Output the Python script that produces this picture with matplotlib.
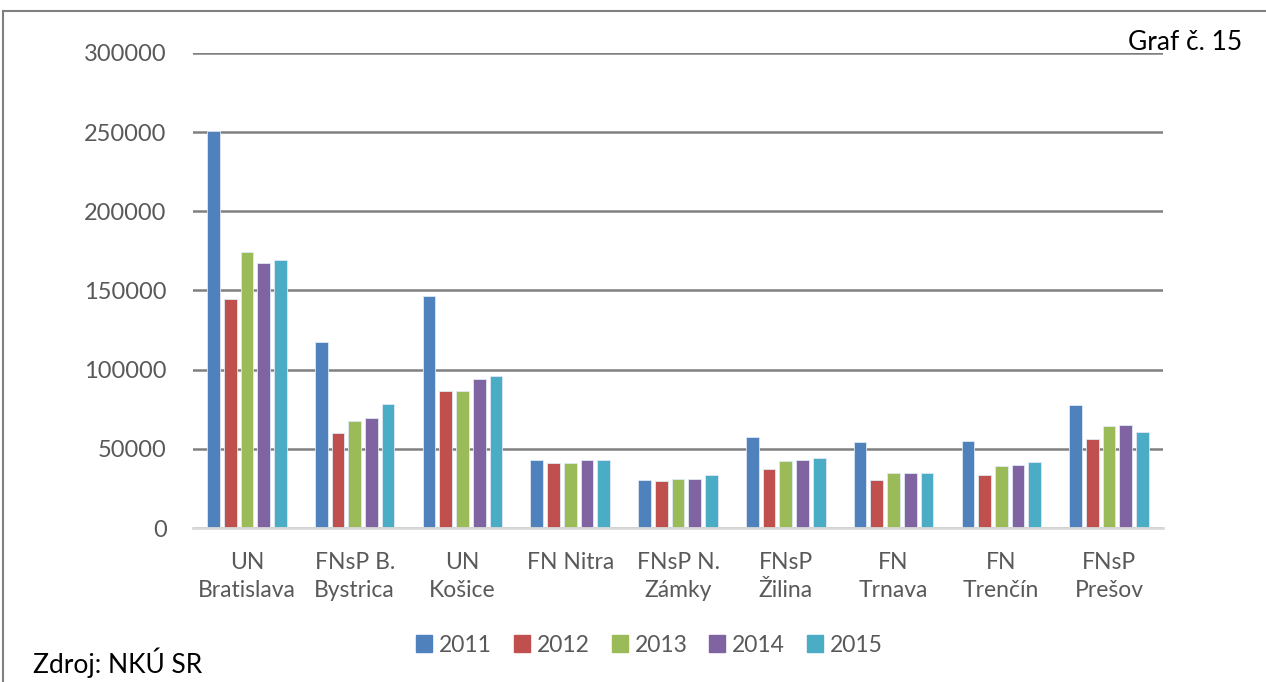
import numpy as np
import matplotlib.pyplot as plt
from matplotlib.lines import Line2D

plt.rcParams['font.family'] = ['Lato', 'DejaVu Sans']

categories = ['UN\nBratislava', 'FNsP B.\nBystrica', 'UN\nKošice', 'FN Nitra', 'FNsP N.\nZámky',
              'FNsP\nŽilina', 'FN\nTrnava', 'FN\nTrenčín', 'FNsP\nPrešov']
years = ['2011', '2012', '2013', '2014', '2015']
v2011 = [251000, 117200, 146600, 42800, 30100, 57500, 54600, 55200, 77400]
v2012 = [144500, 60000, 86800, 41300, 29500, 37100, 30600, 33300, 56500]
v2013 = [174400, 67400, 86400, 41100, 30800, 42200, 34600, 39200, 64500]
v2014 = [167500, 69300, 94400, 42800, 31200, 43200, 34600, 39600, 65300]
v2015 = [169200, 78200, 96300, 42800, 33700, 44200, 35000, 41700, 60900]
colors = ['#4F81BD', '#C0504D', '#9BBB59', '#8064A2', '#4BACC6']

fig = plt.figure(figsize=(12.66, 6.82), dpi=100)
ax = fig.add_axes([0.1525, 0.2258, 0.7661, 0.6965])

x = np.arange(len(categories))
pitch = 0.155
width = 0.118
for i, vals in enumerate([v2011, v2012, v2013, v2014, v2015]):
    ax.bar(x + (i - 2) * pitch, vals, width, color=colors[i], edgecolor='#dfe8f3',
           linewidth=0.6, label=years[i], zorder=3)

ax.set_xlim(-0.5, len(categories) - 0.5)
ax.set_ylim(0, 300000)
ax.set_yticks(range(0, 300001, 50000))
ax.yaxis.grid(True, color='#808080', linewidth=1.8, zorder=0)
for s in ['top', 'right', 'left']:
    ax.spines[s].set_visible(False)
ax.spines['bottom'].set_color('#d9d9d9')
ax.spines['bottom'].set_linewidth(2)
ax.spines['bottom'].set_zorder(4)
ax.tick_params(axis='y', length=0, labelsize=17, colors='#595959', pad=19)
ax.tick_params(axis='x', length=0, labelsize=16.5, colors='#595959', pad=17)
ax.set_xticks(x)
ax.set_xticklabels(categories, linespacing=1.45)

handles = [plt.Rectangle((0, 0), 1, 1, color=c) for c in colors]
fig.legend(handles, years, loc='center', bbox_to_anchor=(0.513, 1 - 645 / 682), ncol=5,
           frameon=False, fontsize=16.5, handlelength=0.7, handleheight=0.7,
           handletextpad=0.3, columnspacing=0.95, labelcolor='#595959')

fig.text(1128 / 1266, 1 - 43 / 682, 'Graf č. 15', fontsize=19, va='center', ha='left')
fig.text(33 / 1266, 1 - 663 / 682, 'Zdroj: NKÚ SR', fontsize=19, va='center', ha='left')

# frame around the whole chart
fig.add_artist(Line2D([3 / 1266, 1], [1 - 11 / 682, 1 - 11 / 682], color='#7f7f7f', linewidth=1.5))
fig.add_artist(Line2D([3 / 1266, 3 / 1266], [0, 1 - 11 / 682], color='#7f7f7f', linewidth=1.5))

fig.savefig('out.png', dpi=100)
